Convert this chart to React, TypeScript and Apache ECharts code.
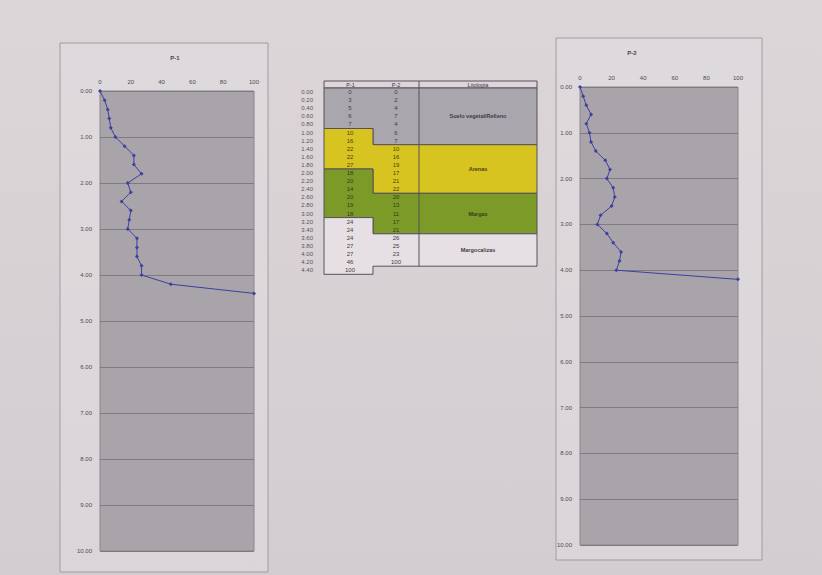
import React, { useEffect, useRef } from "react";
import * as echarts from "echarts";

const depthLabels = ["0.00","0.20","0.40","0.60","0.80","1.00","1.20","1.40","1.60","1.80","2.00","2.20","2.40","2.60","2.80","3.00","3.20","3.40","3.60","3.80","4.00","4.20","4.40"];
const p1Values = [0,3,5,6,7,10,16,22,22,27,18,20,14,20,19,18,24,24,24,27,27,46,100];
const p2Values = [0,2,4,7,4,6,7,10,16,19,17,21,22,20,13,11,17,21,26,25,23,100];
const xTicks = [0,20,40,60,80,100];
const yTicks = [0,1,2,3,4,5,6,7,8,9,10];
const lithoNames = ["Suelo vegetal/Relleno","Arenas","Margas","Margocalizas"];
const lithoP1Start = [0,5,10,16];
const lithoP2Start = [0,7,13,18];
const lithoColors = ["#a9a7ad","#d8c421","#7b9a27","#e6e0e4"];
const lithoTextColors = ["#3f3c42","#4a3e10","#33401a","#3f3c42"];

const FONT = "Liberation Sans, Arial, sans-serif";

export default function App() {
  const ref = useRef<HTMLDivElement>(null);
  useEffect(() => {
    if (!ref.current) return;
    const chart = echarts.init(ref.current, undefined, { renderer: "svg" });

    const depths = depthLabels.map((d) => parseFloat(d));
    const p1Data = p1Values.map((v, i) => [v, depths[i]]);
    const p2Data = p2Values.map((v, i) => [v, depths[i]]);

    // table geometry
    const tx0 = 324, tx1 = 373, tx2 = 419, tx3 = 537;
    const hTop = 81, rTop = 88, rh = 8.1;
    const rowY = (i: number) => rTop + rh * i;
    const nP1 = p1Values.length, nP2 = p2Values.length;

    const graphics: any[] = [];
    // chart boxes
    graphics.push({ type: "rect", shape: { x: 60, y: 43, width: 208, height: 529 }, style: { fill: "rgba(226,221,224,0.5)", stroke: "#a29ca0", lineWidth: 1 }, z: -1 });
    graphics.push({ type: "rect", shape: { x: 556, y: 38, width: 206, height: 522 }, style: { fill: "rgba(226,221,224,0.5)", stroke: "#a29ca0", lineWidth: 1 }, z: -1 });
    graphics.push({ type: "text", x: 175, y: 58, style: { text: "P-1", font: `bold 6px ${FONT}`, fill: "#4a4549", align: "center", verticalAlign: "middle" } });
    graphics.push({ type: "text", x: 632, y: 53, style: { text: "P-2", font: `bold 6px ${FONT}`, fill: "#4a4549", align: "center", verticalAlign: "middle" } });

    // header
    graphics.push({ type: "rect", shape: { x: tx0, y: hTop, width: tx3 - tx0, height: rTop - hTop }, style: { fill: "#dcd6da", stroke: "#5a5058", lineWidth: 1 } });
    graphics.push({ type: "text", x: (tx0 + tx1) / 2 + 2, y: (hTop + rTop) / 2, style: { text: "P-1", font: `5.5px ${FONT}`, fill: "#3a353a", align: "center", verticalAlign: "middle" } });
    graphics.push({ type: "text", x: 396, y: (hTop + rTop) / 2, style: { text: "P-2", font: `5.5px ${FONT}`, fill: "#3a353a", align: "center", verticalAlign: "middle" } });
    graphics.push({ type: "text", x: (tx2 + tx3) / 2, y: (hTop + rTop) / 2, style: { text: "Litología", font: `5.5px ${FONT}`, fill: "#3a353a", align: "center", verticalAlign: "middle" } });

    // layer polygons
    lithoNames.forEach((name, k) => {
      const a1 = rowY(lithoP1Start[k]);
      const b1 = rowY(k + 1 < lithoP1Start.length ? lithoP1Start[k + 1] : nP1);
      const a2 = rowY(lithoP2Start[k]);
      const b2 = rowY(k + 1 < lithoP2Start.length ? lithoP2Start[k + 1] : nP2);
      graphics.push({
        type: "polygon",
        shape: { points: [[tx0, a1], [tx1, a1], [tx1, a2], [tx3, a2], [tx3, b2], [tx1, b2], [tx1, b1], [tx0, b1]] },
        style: { fill: lithoColors[k], stroke: "#57505a", lineWidth: 1 },
      });
      graphics.push({ type: "text", x: (tx2 + tx3) / 2, y: (a2 + b2) / 2, style: { text: name, font: `bold 5.5px ${FONT}`, fill: lithoTextColors[k], align: "center", verticalAlign: "middle" } });
    });
    graphics.push({ type: "line", shape: { x1: tx2, y1: hTop, x2: tx2, y2: rowY(nP2) }, style: { stroke: "#57505a", lineWidth: 1 } });

    const colorAt = (starts: number[], i: number) => {
      let k = 0;
      starts.forEach((s, j) => { if (i >= s) k = j; });
      return lithoTextColors[k];
    };
    depthLabels.forEach((d, i) => {
      const y = rowY(i) + rh / 2;
      graphics.push({ type: "text", x: 313, y, style: { text: d, font: `6px ${FONT}`, fill: "#5a5458", align: "right", verticalAlign: "middle" } });
      graphics.push({ type: "text", x: 350, y, style: { text: String(p1Values[i]), font: `6px ${FONT}`, fill: colorAt(lithoP1Start, i), align: "center", verticalAlign: "middle" } });
      if (i < nP2) {
        graphics.push({ type: "text", x: 396, y, style: { text: String(p2Values[i]), font: `6px ${FONT}`, fill: colorAt(lithoP2Start, i), align: "center", verticalAlign: "middle" } });
      }
    });

    const mkX = (gi: number) => ({
      type: "value", gridIndex: gi, position: "top", min: xTicks[0], max: xTicks[xTicks.length - 1], interval: xTicks[1] - xTicks[0],
      axisLine: { show: false }, axisTick: { show: false }, splitLine: { show: false },
      axisLabel: { fontSize: 6, color: "#4f4a4e", fontFamily: FONT, margin: 6 },
    });
    const mkY = (gi: number) => ({
      type: "value", gridIndex: gi, inverse: true, min: yTicks[0], max: yTicks[yTicks.length - 1], interval: yTicks[1] - yTicks[0],
      axisLine: { show: false }, axisTick: { show: false },
      splitLine: { show: true, lineStyle: { color: "#7f7a82", width: 1 } },
      axisLabel: { fontSize: 6, color: "#4f4a4e", fontFamily: FONT, margin: 8, formatter: (v: number) => v.toFixed(2) },
    });
    const lineSeries = (gi: number, data: number[][]) => ({
      type: "line", xAxisIndex: gi, yAxisIndex: gi, data,
      symbol: "diamond", symbolSize: 4,
      lineStyle: { color: "#3c40a0", width: 1 }, itemStyle: { color: "#3c40a0" },
    });

    chart.setOption({
      animation: false,
      backgroundColor: { type: "linear", x: 0, y: 0, x2: 0, y2: 1, colorStops: [{ offset: 0, color: "#dcd6d9" }, { offset: 1, color: "#d3cdd1" }] },
      grid: [
        { left: 100, top: 91, width: 154, height: 460, show: true, backgroundColor: "#a8a4aa", borderColor: "#8a868c", borderWidth: 1 },
        { left: 580, top: 87, width: 158, height: 458, show: true, backgroundColor: "#a8a4aa", borderColor: "#8a868c", borderWidth: 1 },
      ],
      xAxis: [mkX(0), mkX(1)],
      yAxis: [mkY(0), mkY(1)],
      series: [lineSeries(0, p1Data), lineSeries(1, p2Data)],
      graphic: graphics,
    });
    return () => chart.dispose();
  }, []);
  return <div ref={ref} style={{ position: "fixed", left: 0, top: 0, width: 822, height: 575 }} />;
}
